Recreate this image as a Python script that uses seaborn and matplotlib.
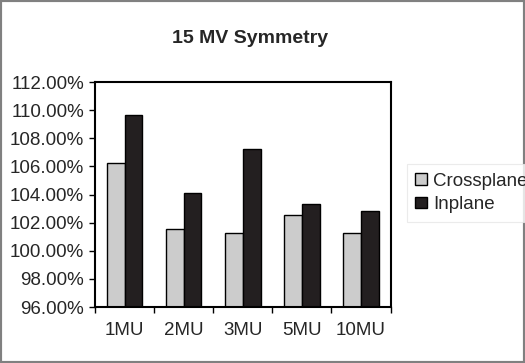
import pandas as pd
import matplotlib.pyplot as plt
import seaborn as sns
from matplotlib.ticker import FuncFormatter, FixedLocator
from matplotlib.patches import Rectangle

categories = ['1MU', '2MU', '3MU', '5MU', '10MU']
crossplane = [106.26, 101.54, 101.26, 102.52, 101.26]
inplane = [109.65, 104.08, 107.26, 103.30, 102.83]

df = pd.DataFrame({
    'mu': categories * 2,
    'value': crossplane + inplane,
    'series': ['Crossplane'] * len(categories) + ['Inplane'] * len(categories),
})

sns.set_style('white')
plt.rcParams['font.family'] = ['Liberation Sans', 'DejaVu Sans']

fig = plt.figure(figsize=(5.25, 3.63), dpi=100)
ax = fig.add_axes([0.181, 0.154, 0.563, 0.620])

sns.barplot(data=df, x='mu', y='value', hue='series', ax=ax,
            palette={'Crossplane': '#cccccc', 'Inplane': '#231f20'},
            width=0.6, edgecolor='black', linewidth=1, saturation=1)

ax.set_ylim(96, 112)
ax.set_xlim(-0.5, 4.5)
ax.set_yticks(range(96, 113, 2))
ax.yaxis.set_major_formatter(FuncFormatter(lambda v, p: f'{v:.2f}%'))
ax.xaxis.set_minor_locator(FixedLocator([i - 0.5 for i in range(len(categories) + 1)]))
ax.tick_params(axis='x', which='major', length=0, pad=11, labelsize=13.5)
ax.tick_params(axis='x', which='minor', length=4, width=1, color='black', direction='out', bottom=True)
ax.tick_params(axis='y', length=4, width=1, color='black', direction='out', left=True, labelsize=13.5, pad=4)
ax.set_xlabel('')
ax.set_ylabel('')
for s in ax.spines.values():
    s.set_color('black')
    s.set_linewidth(1.5)

ax.legend_.remove()
handles, labels = ax.get_legend_handles_labels()
leg = fig.legend(handles, labels, loc='upper left', bbox_to_anchor=(0.775, 0.548),
                 fontsize=13.5, frameon=True, fancybox=False, handlelength=0.6,
                 handleheight=0.6, handletextpad=0.35, labelspacing=0.35,
                 borderpad=0.45, borderaxespad=0)
leg.get_frame().set_edgecolor('#e6e6e6')
leg.get_frame().set_linewidth(0.8)

fig.text(0.477, 0.895, '15 MV Symmetry', ha='center', va='center',
         fontsize=14, fontweight='bold')

fig.patches.append(Rectangle((0, 0), 1, 1, transform=fig.transFigure,
                             fill=False, edgecolor='#808080', linewidth=3))

fig.savefig('out.png', dpi=100)
